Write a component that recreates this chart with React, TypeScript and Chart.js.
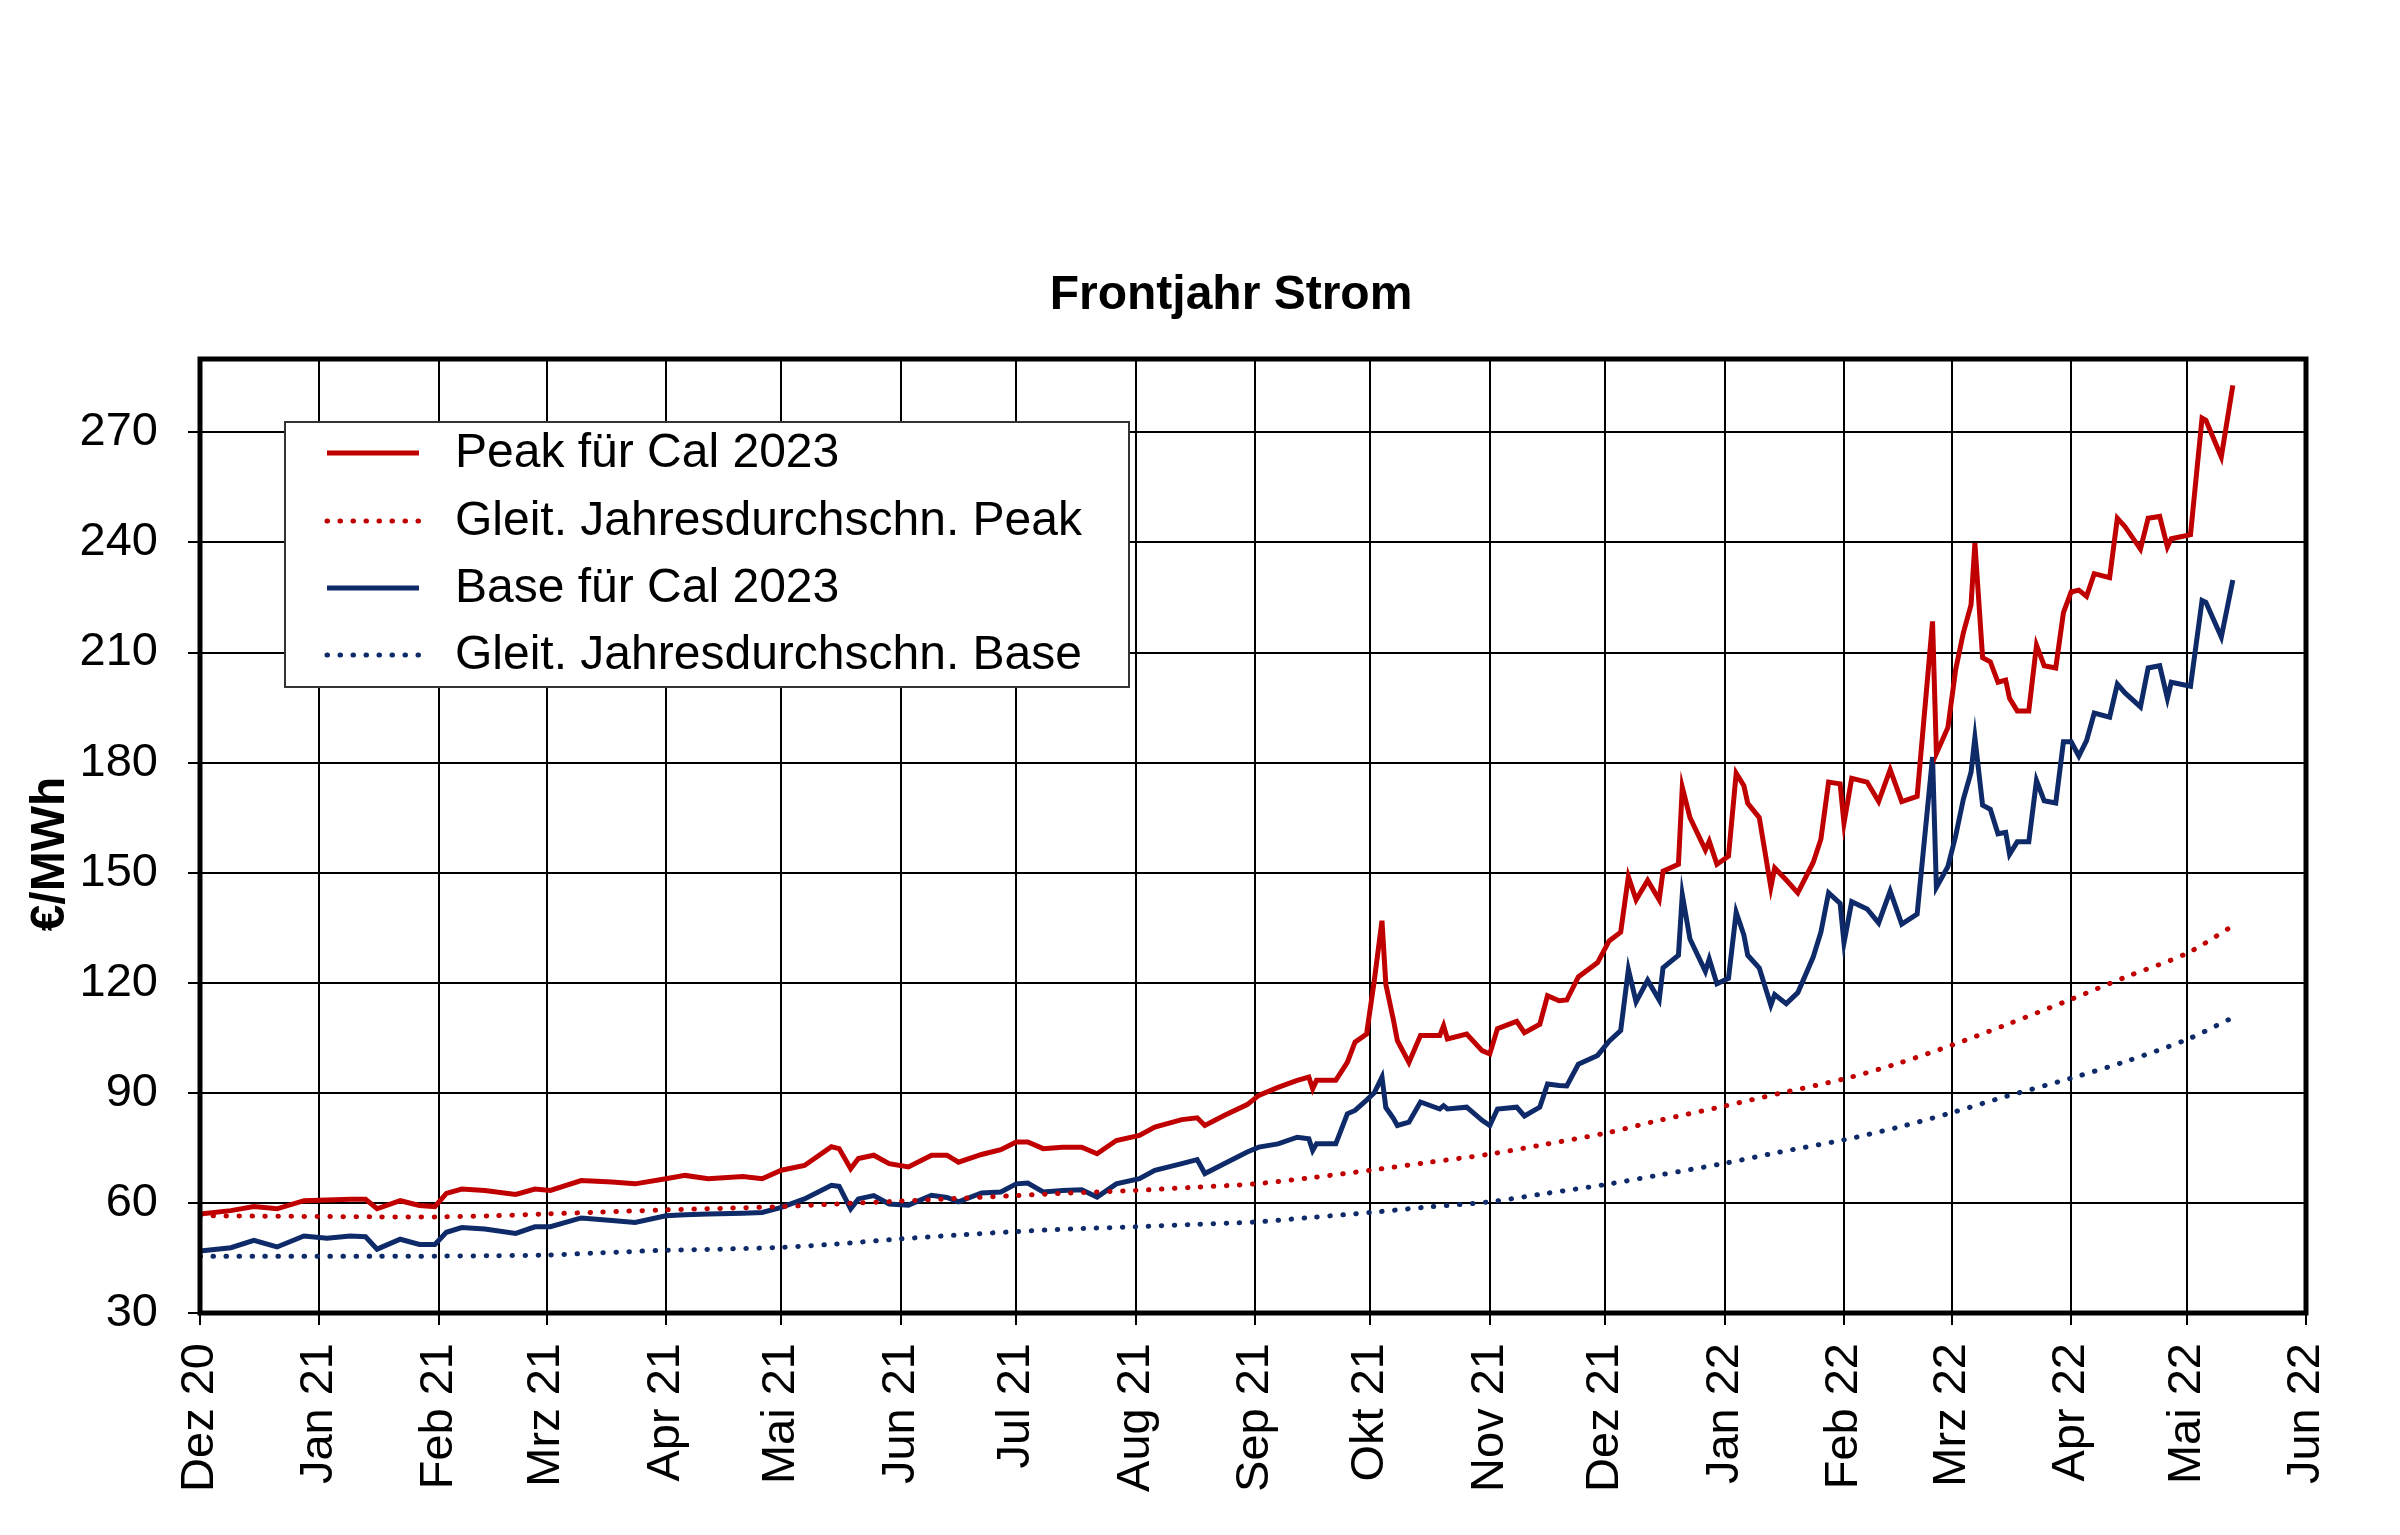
import { useEffect, useRef } from "react";
import { Chart, registerables } from "chart.js";

Chart.register(...registerables);

const START = Date.parse("2020-12-01");
const dayOf = (iso: string) => (Date.parse(iso) - START) / 86400000;

// x axis: month starts and their labels
const monthStarts = [
  "2020-12-01", "2021-01-01", "2021-02-01", "2021-03-01", "2021-04-01", "2021-05-01",
  "2021-06-01", "2021-07-01", "2021-08-01", "2021-09-01", "2021-10-01", "2021-11-01",
  "2021-12-01", "2022-01-01", "2022-02-01", "2022-03-01", "2022-04-01", "2022-05-01",
  "2022-06-01",
];
const monthLabels = [
  "Dez 20", "Jan 21", "Feb 21", "Mrz 21", "Apr 21", "Mai 21", "Jun 21", "Jul 21",
  "Aug 21", "Sep 21", "Okt 21", "Nov 21", "Dez 21", "Jan 22", "Feb 22", "Mrz 22",
  "Apr 22", "Mai 22", "Jun 22",
];

// trading days
const dates = [
  "2020-12-01", "2020-12-09", "2020-12-15", "2020-12-21", "2020-12-28", "2021-01-03",
  "2021-01-09", "2021-01-13", "2021-01-16", "2021-01-22", "2021-01-27", "2021-01-31",
  "2021-02-03", "2021-02-07", "2021-02-13", "2021-02-21", "2021-02-26", "2021-03-02",
  "2021-03-10", "2021-03-18", "2021-03-24", "2021-04-01", "2021-04-06", "2021-04-12",
  "2021-04-21", "2021-04-26", "2021-05-01", "2021-05-07", "2021-05-14", "2021-05-16",
  "2021-05-19", "2021-05-21", "2021-05-25", "2021-05-29", "2021-06-03", "2021-06-09",
  "2021-06-13", "2021-06-16", "2021-06-22", "2021-06-27", "2021-07-01", "2021-07-04",
  "2021-07-08", "2021-07-13", "2021-07-18", "2021-07-22", "2021-07-27", "2021-08-02",
  "2021-08-06", "2021-08-13", "2021-08-17", "2021-08-19", "2021-08-24", "2021-08-30",
  "2021-09-02", "2021-09-07", "2021-09-12", "2021-09-15", "2021-09-16", "2021-09-17",
  "2021-09-22", "2021-09-25", "2021-09-27", "2021-09-30", "2021-10-02", "2021-10-04",
  "2021-10-05", "2021-10-07", "2021-10-08", "2021-10-11", "2021-10-14", "2021-10-19",
  "2021-10-20", "2021-10-21", "2021-10-26", "2021-10-30", "2021-11-01", "2021-11-03",
  "2021-11-08", "2021-11-10", "2021-11-14", "2021-11-16", "2021-11-19", "2021-11-21",
  "2021-11-24", "2021-11-29", "2021-12-02", "2021-12-05", "2021-12-07", "2021-12-09",
  "2021-12-12", "2021-12-15", "2021-12-16", "2021-12-20", "2021-12-21", "2021-12-23",
  "2021-12-27", "2021-12-28", "2021-12-30", "2022-01-02", "2022-01-04", "2022-01-06",
  "2022-01-07", "2022-01-10", "2022-01-13", "2022-01-14", "2022-01-17", "2022-01-20",
  "2022-01-24", "2022-01-26", "2022-01-28", "2022-01-31", "2022-02-01", "2022-02-03",
  "2022-02-07", "2022-02-10", "2022-02-13", "2022-02-16", "2022-02-20", "2022-02-24",
  "2022-02-25", "2022-02-28", "2022-03-02", "2022-03-04", "2022-03-06", "2022-03-07",
  "2022-03-09", "2022-03-11", "2022-03-13", "2022-03-15", "2022-03-16", "2022-03-18",
  "2022-03-21", "2022-03-23", "2022-03-25", "2022-03-28", "2022-03-30", "2022-04-01",
  "2022-04-03", "2022-04-05", "2022-04-07", "2022-04-11", "2022-04-13", "2022-04-15",
  "2022-04-19", "2022-04-21", "2022-04-24", "2022-04-26", "2022-04-27", "2022-05-02",
  "2022-05-05", "2022-05-06", "2022-05-10", "2022-05-13",
];

const peak = [
  57.0, 57.9, 59.0, 58.4, 60.6, 60.8,
  61.0, 61.0, 58.4, 60.6, 59.3, 59.0,
  62.6, 63.8, 63.4, 62.3, 63.8, 63.4,
  66.1, 65.7, 65.2, 66.6, 67.5, 66.6,
  67.2, 66.6, 68.9, 70.2, 75.3, 74.8,
  69.3, 72.1, 73.0, 70.7, 69.8, 73.0,
  73.0, 71.1, 73.2, 74.5, 76.6, 76.6,
  74.8, 75.2, 75.2, 73.4, 77.0, 78.4,
  80.7, 82.7, 83.2, 81.1, 83.8, 86.8,
  89.3, 91.5, 93.4, 94.3, 91.1, 93.4,
  93.4, 98.3, 103.8, 106.0, 120.6, 136.9,
  119.6, 109.7, 104.2, 98.3, 105.6, 105.6,
  108.3, 104.7, 106.0, 101.5, 100.6, 107.5,
  109.5, 106.4, 108.7, 116.5, 115.1, 115.3,
  121.6, 125.5, 131.4, 133.8, 148.9, 142.6,
  147.9, 142.6, 150.4, 152.3, 173.3, 165.0,
  156.2, 158.6, 152.3, 154.5, 177.1, 173.7,
  168.9, 165.0, 146.0, 151.3, 148.0, 144.5,
  152.8, 159.1, 174.7, 174.2, 163.5, 175.7,
  174.7, 169.4, 178.1, 169.4, 170.8, 218.5,
  182.5, 189.6, 205.3, 215.4, 223.0, 239.8,
  208.6, 207.5, 201.9, 202.5, 197.5, 194.1,
  194.1, 212.0, 206.4, 205.8, 220.9, 226.5,
  227.0, 225.3, 231.5, 230.4, 246.6, 244.3,
  238.2, 246.6, 247.1, 238.8, 241.0, 242.1,
  273.9, 273.3, 263.3, 282.8,
];

const base = [
  46.9, 47.8, 49.8, 48.0, 51.0, 50.4,
  51.0, 50.8, 47.4, 50.1, 48.7, 48.7,
  52.0, 53.3, 52.9, 51.7, 53.5, 53.5,
  55.9, 55.2, 54.7, 56.5, 56.8, 57.0,
  57.2, 57.4, 58.8, 61.1, 64.8, 64.5,
  58.4, 61.1, 62.0, 59.7, 59.4, 62.1,
  61.5, 60.3, 62.7, 63.0, 65.2, 65.4,
  63.0, 63.4, 63.6, 61.6, 65.2, 66.6,
  68.9, 70.7, 71.8, 68.0, 70.7, 73.9,
  75.2, 76.1, 77.9, 77.5, 74.3, 76.1,
  76.1, 84.3, 85.2, 88.0, 90.0, 94.3,
  86.0, 83.0, 81.1, 82.0, 87.5, 85.6,
  86.5, 85.6, 86.1, 82.5, 81.1, 85.6,
  86.1, 83.7, 86.1, 92.4, 92.0, 91.9,
  97.8, 100.2, 104.1, 107.0, 123.6, 114.8,
  120.7, 115.3, 124.1, 127.5, 144.0, 131.9,
  123.1, 126.5, 119.7, 121.2, 139.2, 133.0,
  127.5, 124.0, 113.9, 116.8, 114.3, 117.3,
  127.0, 133.8, 144.5, 141.6, 130.9, 142.1,
  140.1, 136.3, 145.0, 136.0, 138.7, 181.5,
  146.0, 151.7, 160.0, 170.0, 177.4, 186.8,
  168.4, 167.3, 160.6, 161.0, 155.0, 158.4,
  158.4, 175.1, 169.6, 169.0, 185.7, 185.7,
  181.8, 186.0, 193.5, 192.4, 201.4, 199.0,
  195.2, 205.8, 206.4, 197.5, 201.9, 200.8,
  224.2, 223.7, 214.2, 229.8,
];

// rolling yearly averages
const avgDates = [
  "2020-12-01", "2020-12-15", "2021-01-01", "2021-01-15", "2021-02-01", "2021-02-15",
  "2021-03-01", "2021-03-15", "2021-04-01", "2021-04-15", "2021-05-01", "2021-05-15",
  "2021-06-01", "2021-06-15", "2021-07-01", "2021-07-15", "2021-08-01", "2021-08-15",
  "2021-09-01", "2021-09-15", "2021-10-01", "2021-10-15", "2021-11-01", "2021-11-15",
  "2021-12-01", "2021-12-15", "2022-01-01", "2022-01-15", "2022-02-01", "2022-02-15",
  "2022-03-01", "2022-03-15", "2022-04-01", "2022-04-15", "2022-05-01", "2022-05-13",
];
const peakAvg = [
  56.5, 56.4, 56.3, 56.2, 56.2, 56.5, 57.0, 57.5, 58.1, 58.5, 59.0, 59.7,
  60.5, 61.2, 62.0, 62.7, 63.4, 64.2, 65.2, 66.8, 68.9, 70.9, 73.3, 75.9,
  79.0, 82.5, 86.4, 89.8, 93.8, 98.0, 103.0, 108.5, 115.5, 121.5, 128.0, 135.5,
];
const baseAvg = [
  45.5, 45.5, 45.5, 45.5, 45.5, 45.6, 45.8, 46.4, 47.1, 47.4, 47.9, 48.8,
  50.2, 51.2, 52.2, 52.9, 53.5, 54.1, 54.8, 56.0, 57.4, 58.8, 60.3, 62.5,
  65.0, 67.6, 70.8, 73.8, 77.2, 80.6, 84.6, 89.0, 94.0, 98.5, 104.5, 110.5,
];

const red = "#C00000";
const navy = "#0E2A68";
const fontFamily = "'Liberation Sans', Arial, sans-serif";

const toPoints = (ds: string[], vs: number[]) => ds.map((d, i) => ({ x: dayOf(d), y: vs[i] }));

const framePlugin = {
  id: "frame",
  afterDraw(chart: any) {
    const { ctx, chartArea } = chart;
    const { left, top, right, bottom } = chartArea;
    ctx.save();

    // thick plot border
    ctx.strokeStyle = "#000";
    ctx.lineWidth = 5;
    ctx.strokeRect(left, top, right - left, bottom - top);

    // chart title
    ctx.fillStyle = "#000";
    ctx.font = `bold 48px ${fontFamily}`;
    ctx.textAlign = "center";
    ctx.textBaseline = "middle";
    ctx.fillText("Frontjahr Strom", 1223, 288);

    // y axis title
    ctx.translate(43, 846);
    ctx.rotate(-Math.PI / 2);
    ctx.fillText("€/MWh", 0, 0);
    ctx.restore();

    // legend box
    ctx.save();
    ctx.fillStyle = "#fff";
    ctx.fillRect(277, 414, 844, 265);
    ctx.strokeStyle = "#333";
    ctx.lineWidth = 2;
    ctx.strokeRect(277, 414, 844, 265);
    const rows = [445, 513, 580, 647];
    chart.data.datasets.forEach((ds: any, i: number) => {
      const y = rows[i];
      ctx.beginPath();
      ctx.strokeStyle = ds.borderColor;
      ctx.lineWidth = ds.borderWidth;
      ctx.lineCap = ds.borderCapStyle || "butt";
      ctx.setLineDash(ds.borderDash || []);
      ctx.moveTo(319, y);
      ctx.lineTo(411, y);
      ctx.stroke();
      ctx.setLineDash([]);
      ctx.fillStyle = "#000";
      ctx.font = `48px ${fontFamily}`;
      ctx.textAlign = "left";
      ctx.textBaseline = "middle";
      ctx.fillText(ds.label, 447, y + 1);
    });
    ctx.restore();
  },
};

export default function App() {
  const canvasRef = useRef<HTMLCanvasElement>(null);

  useEffect(() => {
    if (!canvasRef.current) return;

    const solid = { borderWidth: 5, pointRadius: 0, tension: 0, fill: false };
    const dotted = {
      borderWidth: 5,
      pointRadius: 0,
      tension: 0.3,
      fill: false,
      borderDash: [0.5, 12.5],
      borderCapStyle: "round" as const,
    };

    const chart = new Chart(canvasRef.current, {
      type: "line",
      data: {
        datasets: [
          { label: "Peak für Cal 2023", data: toPoints(dates, peak), borderColor: red, ...solid },
          { label: "Gleit. Jahresdurchschn. Peak", data: toPoints(avgDates, peakAvg), borderColor: red, ...dotted },
          { label: "Base für Cal 2023", data: toPoints(dates, base), borderColor: navy, ...solid },
          { label: "Gleit. Jahresdurchschn. Base", data: toPoints(avgDates, baseAvg), borderColor: navy, ...dotted },
        ],
      },
      options: {
        animation: false,
        responsive: true,
        maintainAspectRatio: false,
        layout: { padding: { top: 351, right: 86, left: 0, bottom: 0 } },
        plugins: {
          legend: { display: false },
          title: { display: false },
          tooltip: { enabled: false },
        },
        scales: {
          x: {
            type: "linear",
            min: 0,
            max: dayOf("2022-06-01"),
            afterBuildTicks: (scale: any) => {
              scale.ticks = monthStarts.map((d) => ({ value: dayOf(d) }));
            },
            afterFit: (scale: any) => {
              scale.height = 214;
            },
            grid: { color: "#000", lineWidth: 2, tickLength: 12, tickColor: "#000", tickWidth: 2 },
            border: { display: false },
            ticks: {
              autoSkip: false,
              minRotation: 90,
              maxRotation: 90,
              padding: 18,
              color: "#000",
              font: { family: fontFamily, size: 47 },
              callback: (_v: any, i: number) => monthLabels[i],
            },
          },
          y: {
            min: 30,
            max: 290,
            afterBuildTicks: (scale: any) => {
              scale.ticks = scale.ticks.filter((t: any) => t.value % 30 === 0);
            },
            afterFit: (scale: any) => {
              scale.width = 192;
            },
            grid: { color: "#000", lineWidth: 2, tickLength: 12, tickColor: "#000", tickWidth: 2 },
            border: { display: false },
            ticks: {
              stepSize: 30,
              padding: 30,
              color: "#000",
              font: { family: fontFamily, size: 47 },
            },
          },
        },
      },
      plugins: [framePlugin],
    });

    return () => {
      chart.destroy();
    };
  }, []);

  return (
    <div style={{ width: 2384, height: 1519, position: "relative", background: "#fff" }}>
      <canvas ref={canvasRef} />
    </div>
  );
}
